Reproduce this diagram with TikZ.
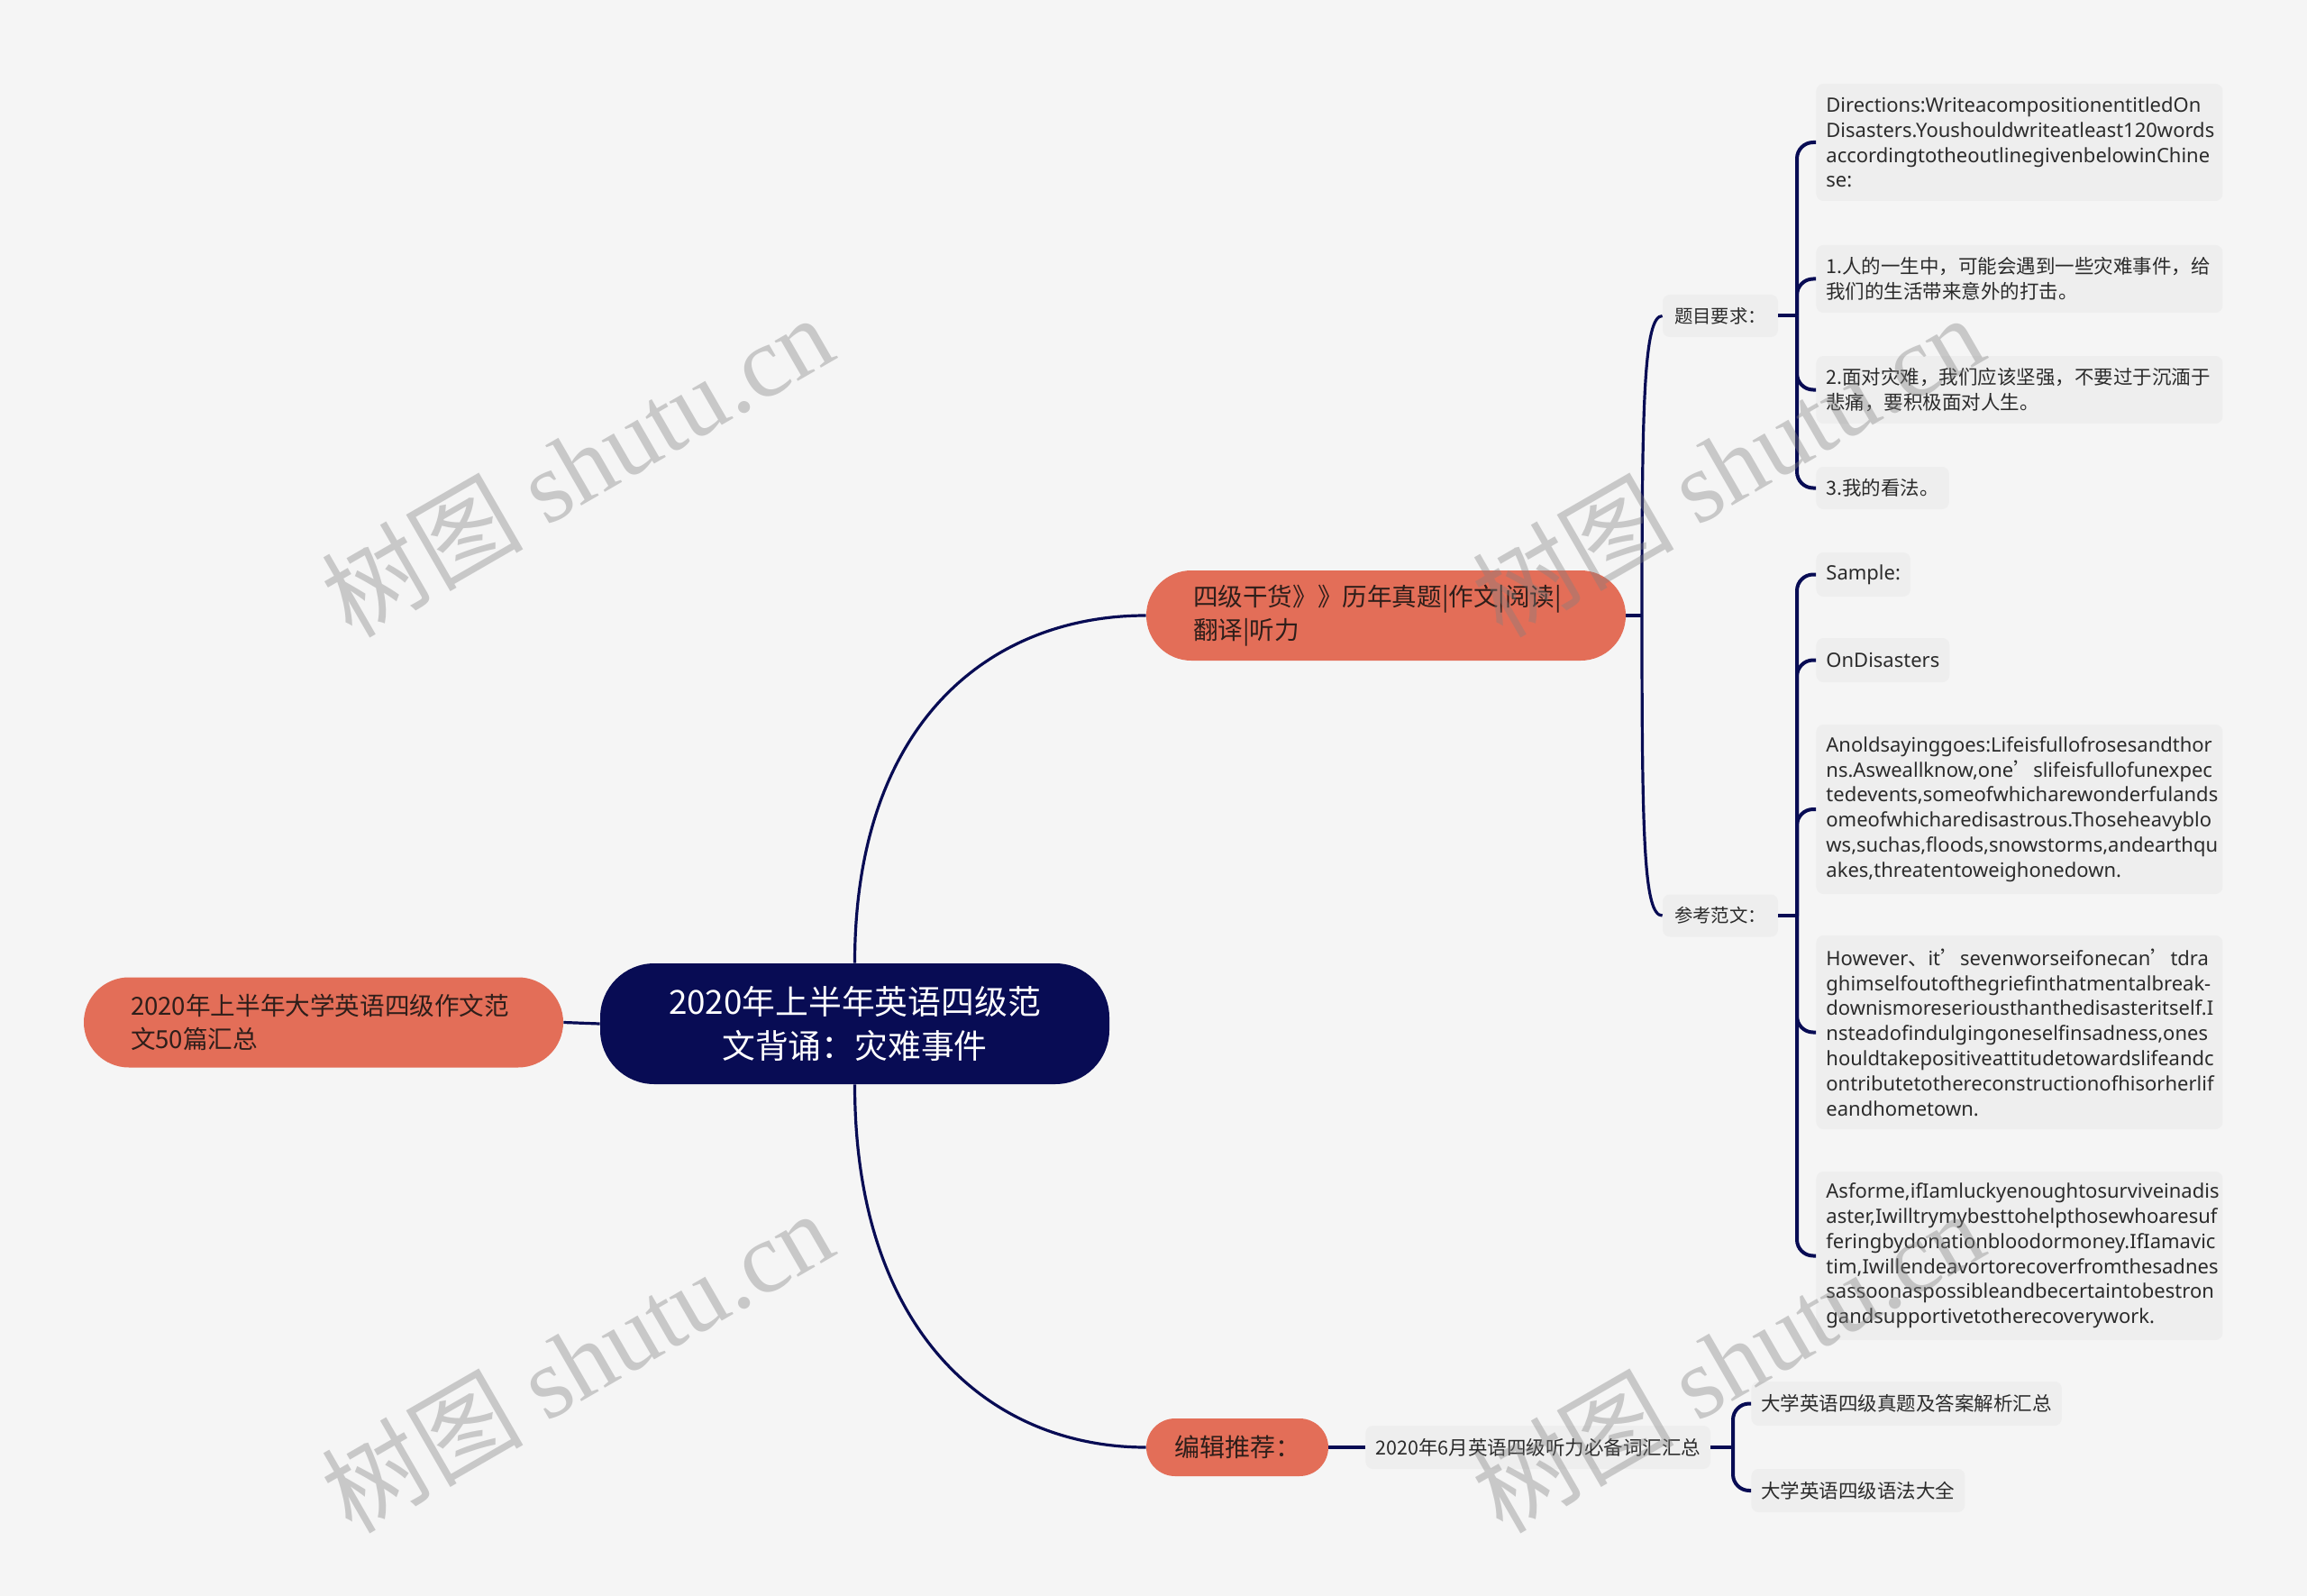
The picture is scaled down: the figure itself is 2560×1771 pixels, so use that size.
\documentclass[tikz,border=0pt]{standalone}
\usepackage{fontspec}
\setmainfont{Noto Sans CJK SC}
\newfontfamily\cjk{Noto Sans CJK SC}
\newfontfamily\lat{Noto Sans}
\newfontfamily\wmlat{Liberation Serif}
\hyphenpenalty=10000
\exhyphenpenalty=10000
\definecolor{bgc}{HTML}{F5F5F5}
\definecolor{navy}{HTML}{080C54}
\definecolor{coral}{HTML}{E36E58}
\definecolor{leafc}{HTML}{EEEEEE}
\definecolor{ink}{HTML}{2B2B2B}
\definecolor{darkink}{HTML}{2E1E1A}
\tikzset{
  rootnode/.style={fill=navy, text=white, rounded corners=30pt, minimum width=282.5pt, minimum height=67pt,
    font=\fontsize{18.4}{24.5}\selectfont, align=center, inner sep=0pt},
  branchnode/.style={fill=coral, text=darkink, rounded corners=25pt, minimum height=50pt, text width=214pt,
    inner xsep=26pt, inner ysep=0pt, font=\fontsize{13.8}{18.8}\selectfont, align=left},
  smallbranch/.style={fill=coral, text=darkink, rounded corners=16pt, minimum width=101pt, minimum height=32pt,
    inner sep=0pt, font=\fontsize{14}{18}\selectfont},
  subnode/.style={fill=leafc, text=ink, rounded corners=4pt, minimum width=64pt, minimum height=23.5pt,
    inner sep=0pt, font=\fontsize{10.2}{13}\selectfont},
  leafbox/.style={fill=leafc, text=ink, rounded corners=4pt, anchor=west, inner xsep=5.5pt, inner ysep=3pt,
    align=left, minimum height=23.5pt},
  widebox/.style={text width=214.5pt},
  cjkf/.style={font=\fontsize{10.75}{13.9}\selectfont},
  latf/.style={font=\lat\fontsize{11}{13.9}\selectfont},
  conn/.style={draw=navy, line width=1.6pt},
  brk/.style={draw=navy, line width=2pt, rounded corners=9pt},
  watermark/.style={rotate=30, text=gray, text opacity=0.38, font=\fontsize{56}{60}\selectfont}
}
\begin{document}
\begin{tikzpicture}[x=0.5pt,y=-0.5pt]
\fill[bgc] (0,0) rectangle (2560,1771);
\useasboundingbox (0,0) rectangle (2560,1771);

% main nodes
\node[rootnode] (root) at (948.5,1136) {2020年上半年英语四级范\\文背诵：灾难事件};
\node[branchnode] (left) at (359,1134.5) {2020年上半年大学英语四级作文范\\文50篇汇总};
\node[branchnode] (b1) at (1538,683) {四级干货》》历年真题|作文|阅读|\\翻译|听力};
\node[smallbranch] (b3) at (1373,1606) {编辑推荐：};

% second level
\node[subnode] (tq) at (1909,350.5) {题目要求：};
\node[subnode] (ck) at (1909,1016) {参考范文：};
\node[leafbox, cjkf, minimum height=24pt] (n6) at (1515,1606) {2020年6月英语四级听力必备词汇汇总};

% leaves of 题目要求
\node[leafbox, widebox, latf, minimum height=65pt] (d1) at (2015,158) {Directions:WriteacompositionentitledOn\\Disasters.Youshouldwriteatleast120words\\accordingtotheoutlinegivenbelowinChine\\se:};
\node[leafbox, widebox, cjkf, minimum height=37.5pt] (d2) at (2015,309.5) {1.人的一生中，可能会遇到一些灾难事件，给\\我们的生活带来意外的打击。};
\node[leafbox, widebox, cjkf, minimum height=37.5pt] (d3) at (2015,432.5) {2.面对灾难，我们应该坚强，不要过于沉湎于\\悲痛，要积极面对人生。};
\node[leafbox, cjkf] (d4) at (2015,541.5) {3.我的看法。};

% leaves of 参考范文
\node[leafbox, latf, minimum height=24.5pt] (s1) at (2015,637.5) {Sample:};
\node[leafbox, latf, minimum height=24.5pt] (s2) at (2015,732.5) {OnDisasters};
\node[leafbox, widebox, latf, minimum height=94pt] (s3) at (2015,898) {Anoldsayinggoes:Lifeisfullofrosesandthor\\ns.Asweallknow,one{\cjk ’}slifeisfullofunexpec\\tedevents,someofwhicharewonderfulands\\omeofwhicharedisastrous.Thoseheavyblo\\ws,suchas,floods,snowstorms,andearthqu\\akes,threatentoweighonedown.};
\node[leafbox, widebox, latf, minimum height=107.5pt] (s4) at (2015,1145.5) {However{\cjk 、}it{\cjk ’}sevenworseifonecan{\cjk ’}tdra\\ghimselfoutofthegriefinthatmentalbreak-\\downismoreseriousthanthedisasteritself.I\\nsteadofindulgingoneselfinsadness,ones\\houldtakepositiveattitudetowardslifeandc\\ontributetothereconstructionofhisorherlif\\eandhometown.};
\node[leafbox, widebox, latf, minimum height=93.5pt] (s5) at (2015,1393.5) {Asforme,ifIamluckyenoughtosurviveinadis\\aster,Iwilltrymybesttohelpthosewhoaresuf\\feringbydonationbloodormoney.IfIamavic\\tim,Iwillendeavortorecoverfromthesadnes\\sassoonaspossibleandbecertaintobestron\\gandsupportivetotherecoverywork.};

% leaves of n6
\node[leafbox, cjkf, minimum height=24.5pt] (e1) at (1943,1557.5) {大学英语四级真题及答案解析汇总};
\node[leafbox, cjkf, minimum height=24pt] (e2) at (1943,1654) {大学英语四级语法大全};

% connectors
\draw[conn] (root.west) -- (left.east);
\draw[conn] (root.north) .. controls (948.5,800) and (1100,683) .. (b1.west);
\draw[conn] (root.south) .. controls (948.5,1480) and (1100,1606) .. (b3.west);

\coordinate (j1) at (1822,683);
\draw[conn] (b1.east) -- (j1);
\draw[conn] (j1) .. controls (1822,450) and (1824,350.5) .. (tq.west);
\draw[conn] (j1) .. controls (1822,930) and (1824,1016) .. (ck.west);

\coordinate (j2) at (1994,350.5);
\draw[conn, line width=2pt] (tq.east) -- (j2);
\foreach \n in {d1,d2,d3,d4} \draw[brk] (j2) |- (\n.west);

\coordinate (j3) at (1994,1016);
\draw[conn, line width=2pt] (ck.east) -- (j3);
\foreach \n in {s1,s2,s3,s4,s5} \draw[brk] (j3) |- (\n.west);

\draw[conn, line width=2pt] (b3.east) -- (n6.west);
\coordinate (j4) at (1923,1606);
\draw[conn, line width=2pt] (n6.east) -- (j4);
\foreach \n in {e1,e2} \draw[brk] (j4) |- (\n.west);

% watermarks
\node[watermark] (w1) at (640,516) {{\cjk 树图} {\wmlat shutu.cn}};
\node[watermark] (w2) at (1917,516) {{\cjk 树图} {\wmlat shutu.cn}};
\node[watermark] (w3) at (640,1510) {{\cjk 树图} {\wmlat shutu.cn}};
\node[watermark] (w4) at (1917,1510) {{\cjk 树图} {\wmlat shutu.cn}};
\end{tikzpicture}
\end{document}
